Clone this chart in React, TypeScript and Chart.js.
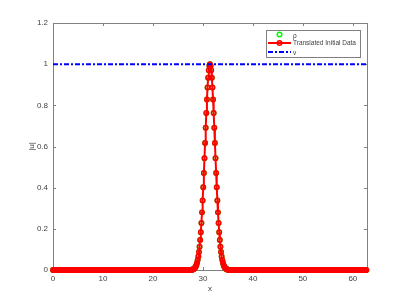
import React, { useEffect, useRef } from "react";
import { Chart, registerables } from "chart.js";

Chart.register(...registerables);

// Sample grid: 512 samples on [0, 20*pi)
const DOMAIN_LENGTH = 20 * Math.PI;

// |u| values (translated initial data)
const uValues: number[] = [
  0,0,0,0,0, 0,0,0,0,0, 0,0,0,0,0, 0,0,0,0,0, 0,0,0,0,0,
  0,0,0,0,0, 0,0,0,0,0, 0,0,0,0,0, 0,0,0,0,0, 0,0,0,0,0,
  0,0,0,0,0, 0,0,0,0,0, 0,0,0,0,0, 0,0,0,0,0, 0,0,0,0,0,
  0,0,0,0,0, 0,0,0,0,0, 0,0,0,0,0, 0,0,0,0,0, 0,0,0,0,0,
  0,0,0,0,0, 0,0,0,0,0, 0,0,0,0,0, 0,0,0,0,0, 0,0,0,0,0,
  0,0,0,0,0, 0,0,0,0,0, 0,0,0,0,0, 0,0,0,0,0, 0,0,0,0,0,
  0,0,0,0,0, 0,0,0,0,0, 0,0,0,0,0, 0,0,0,0,0, 0,0,0,0,0,
  0,0,0,0,0, 0,0,0,0,0, 0,0,0,0,0, 0,0,0,0,0, 0,0,0,0,0,
  0,0,0,0,0, 0,0,0,0,0, 0,0,0,0,0, 0,0,0,0,0, 0,0,0,0,0,
  0,
  0.0011, 0.0017, 0.0027, 0.0041, 0.0062, 0.009, 0.0131, 0.0186, 0.0261, 0.0361,
  0.0492, 0.066, 0.0872, 0.1135, 0.1455, 0.1838, 0.2286, 0.2801, 0.3381, 0.4021,
  0.471, 0.5434, 0.6176, 0.6914, 0.7626, 0.8284, 0.8865, 0.9345, 0.9703, 0.9925,
  1,
  0.9925, 0.9703, 0.9345, 0.8865, 0.8284, 0.7626, 0.6914, 0.6176, 0.5434, 0.471,
  0.4021, 0.3381, 0.2801, 0.2286, 0.1838, 0.1455, 0.1135, 0.0872, 0.066, 0.0492,
  0.0361, 0.0261, 0.0186, 0.0131, 0.009, 0.0062, 0.0041, 0.0027, 0.0017, 0.0011,
  0,0,0,0,0, 0,0,0,0,0, 0,0,0,0,0, 0,0,0,0,0, 0,0,0,0,0,
  0,0,0,0,0, 0,0,0,0,0, 0,0,0,0,0, 0,0,0,0,0, 0,0,0,0,0,
  0,0,0,0,0, 0,0,0,0,0, 0,0,0,0,0, 0,0,0,0,0, 0,0,0,0,0,
  0,0,0,0,0, 0,0,0,0,0, 0,0,0,0,0, 0,0,0,0,0, 0,0,0,0,0,
  0,0,0,0,0, 0,0,0,0,0, 0,0,0,0,0, 0,0,0,0,0, 0,0,0,0,0,
  0,0,0,0,0, 0,0,0,0,0, 0,0,0,0,0, 0,0,0,0,0, 0,0,0,0,0,
  0,0,0,0,0, 0,0,0,0,0, 0,0,0,0,0, 0,0,0,0,0, 0,0,0,0,0,
  0,0,0,0,0, 0,0,0,0,0, 0,0,0,0,0, 0,0,0,0,0, 0,0,0,0,0,
  0,0,0,0,0, 0,0,0,0,0, 0,0,0,0,0, 0,0,0,0,0, 0,0,0,0,0,
];

// rho (numerical solution) coincides with the translated data
const rhoValues: number[] = uValues;

// v: constant line
const vX: number[] = [0, DOMAIN_LENGTH];
const vY: number[] = [1, 1];

const xTicks: number[] = [0, 10, 20, 30, 40, 50, 60];
const yTicks: number[] = [0, 0.2, 0.4, 0.6, 0.8, 1, 1.2];
const yTickLabels: string[] = ["0", "0.2", "0.4", "0.6", "0.8", "1", "1.2"];

const legendLabels: string[] = ["\u03c1", "Translated Initial Data", "v"];

const FONT = '"Liberation Sans", Arial, Helvetica, sans-serif';
const AXIS_COLOR = "#808080";
const TEXT_COLOR = "#3f3f3f";

const xGrid = uValues.map((_, i) => (i * DOMAIN_LENGTH) / uValues.length);

const framePlugin = {
  id: "frame",
  beforeDatasetsDraw(chart: any) {
    const { ctx, chartArea: a, scales } = chart;
    ctx.save();
    ctx.strokeStyle = AXIS_COLOR;
    ctx.lineWidth = 1;
    ctx.strokeRect(a.left + 0.5, a.top + 0.5, a.right - a.left, a.bottom - a.top);
    const tl = 3;
    ctx.beginPath();
    for (const v of xTicks) {
      const px = Math.round(scales.x.getPixelForValue(v)) + 0.5;
      ctx.moveTo(px, a.bottom);
      ctx.lineTo(px, a.bottom - tl);
      ctx.moveTo(px, a.top);
      ctx.lineTo(px, a.top + tl);
    }
    for (const v of yTicks) {
      const py = Math.round(scales.y.getPixelForValue(v)) + 0.5;
      ctx.moveTo(a.left, py);
      ctx.lineTo(a.left + tl, py);
      ctx.moveTo(a.right, py);
      ctx.lineTo(a.right - tl, py);
    }
    ctx.stroke();
    ctx.restore();
  },
  afterDraw(chart: any) {
    const { ctx, chartArea: a } = chart;
    ctx.save();
    // axis titles
    ctx.fillStyle = TEXT_COLOR;
    ctx.font = `8px ${FONT}`;
    ctx.textAlign = "center";
    ctx.textBaseline = "middle";
    ctx.fillText("x", (a.left + a.right) / 2, 289);
    ctx.translate(32, (a.top + a.bottom) / 2);
    ctx.rotate(-Math.PI / 2);
    ctx.fillText("|u|", 0, 0);
    ctx.restore();

    // legend
    ctx.save();
    const bx = 266, by = 30, bw = 94, bh = 27;
    ctx.fillStyle = "#ffffff";
    ctx.fillRect(bx, by, bw, bh);
    ctx.strokeStyle = AXIS_COLOR;
    ctx.lineWidth = 1;
    ctx.strokeRect(bx + 0.5, by + 0.5, bw, bh);
    const sx0 = 268, sx1 = 291, mx = 279.5, tx = 293;
    const rows = [34.5, 43, 52];
    // rho: green open circle
    ctx.strokeStyle = "#00ff00";
    ctx.lineWidth = 1.5;
    ctx.beginPath();
    ctx.arc(mx, rows[0], 2.3, 0, Math.PI * 2);
    ctx.stroke();
    // translated: red line + circle
    ctx.strokeStyle = "#ff0000";
    ctx.lineWidth = 2;
    ctx.beginPath();
    ctx.moveTo(sx0, rows[1]);
    ctx.lineTo(sx1, rows[1]);
    ctx.stroke();
    ctx.lineWidth = 1.5;
    ctx.beginPath();
    ctx.arc(mx, rows[1], 2.3, 0, Math.PI * 2);
    ctx.stroke();
    // v: blue dash-dot
    ctx.strokeStyle = "#0000ff";
    ctx.lineWidth = 2;
    ctx.setLineDash([5, 2, 2, 2]);
    ctx.beginPath();
    ctx.moveTo(sx0, rows[2]);
    ctx.lineTo(sx1, rows[2]);
    ctx.stroke();
    ctx.setLineDash([]);
    ctx.fillStyle = TEXT_COLOR;
    ctx.font = `6.5px ${FONT}`;
    ctx.textAlign = "left";
    ctx.textBaseline = "middle";
    ctx.fillText(legendLabels[0], tx, rows[0] + 1.5);
    ctx.fillText(legendLabels[1], tx, rows[1] + 0.5);
    ctx.fillText(legendLabels[2], tx, rows[2] + 1);
    ctx.restore();
  },
};

export default function App() {
  const canvasRef = useRef<HTMLCanvasElement | null>(null);

  useEffect(() => {
    document.body.style.margin = "0";
    const canvas = canvasRef.current;
    if (!canvas) return;
    const chart = new Chart(canvas, {
      type: "scatter",
      data: {
        datasets: [
          {
            label: "v",
            data: vX.map((x, i) => ({ x, y: vY[i] })),
            showLine: true,
            borderColor: "#0000ff",
            borderWidth: 2,
            borderDash: [5, 2, 2, 2],
            pointRadius: 0,
            clip: false as any,
          },
          {
            label: "Translated Initial Data",
            data: xGrid.map((x, i) => ({ x, y: uValues[i] })),
            showLine: true,
            borderColor: "#ff0000",
            backgroundColor: "#ff0000",
            borderWidth: 2,
            pointRadius: 2.2,
            pointBorderWidth: 1.5,
            pointBorderColor: "#ff0000",
            pointBackgroundColor: "rgba(255,255,255,0)",
            clip: false as any,
          },
          {
            label: "\u03c1",
            data: xGrid.map((x, i) => ({ x, y: rhoValues[i] })),
            showLine: false,
            pointRadius: 2.2,
            pointBorderWidth: 1.5,
            pointBorderColor: "#00ff00",
            pointBackgroundColor: "rgba(0,0,0,0)",
            clip: false as any,
          },
        ],
      },
      options: {
        animation: false,
        responsive: false,
        devicePixelRatio: 1,
        layout: { padding: { left: 0, right: 38, top: 23, bottom: 0 } },
        plugins: {
          legend: { display: false },
          tooltip: { enabled: false },
        },
        scales: {
          x: {
            type: "linear",
            min: 0,
            max: DOMAIN_LENGTH,
            grid: { display: false, drawTicks: false },
            border: { display: false },
            afterBuildTicks: (s: any) => {
              s.ticks = xTicks.map((v) => ({ value: v }));
            },
            afterFit: (s: any) => {
              s.height = 34;
            },
            ticks: {
              color: TEXT_COLOR,
              font: { family: FONT, size: 8 },
              padding: 4,
              maxRotation: 0,
              autoSkip: false,
              callback: (v: any) => String(v),
            },
          },
          y: {
            type: "linear",
            min: 0,
            max: 1.2,
            grid: { display: false, drawTicks: false },
            border: { display: false },
            afterBuildTicks: (s: any) => {
              s.ticks = yTicks.map((v) => ({ value: v }));
            },
            afterFit: (s: any) => {
              s.width = 53;
            },
            ticks: {
              color: TEXT_COLOR,
              font: { family: FONT, size: 8 },
              padding: 5,
              autoSkip: false,
              callback: (_v: any, i: number) => yTickLabels[i],
            },
          },
        },
      },
      plugins: [framePlugin],
    });
    return () => chart.destroy();
  }, []);

  return (
    <div style={{ width: 405, height: 304, background: "#ffffff" }}>
      <canvas ref={canvasRef} width={405} height={304} style={{ display: "block" }} />
    </div>
  );
}
